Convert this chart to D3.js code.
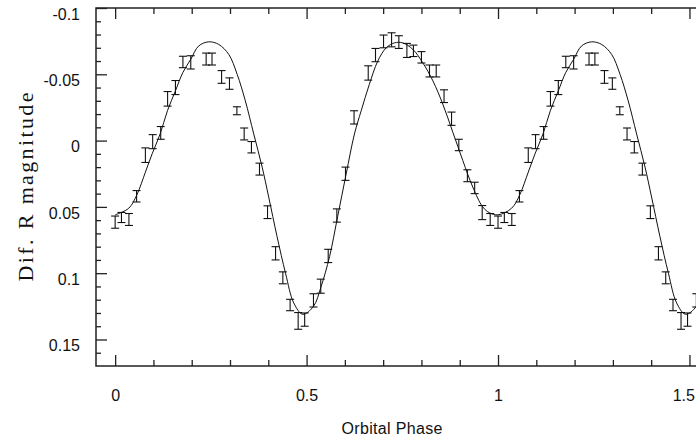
<!DOCTYPE html>
<html>
<head>
<meta charset="utf-8">
<script src="https://cdn.jsdelivr.net/npm/d3@7"></script>
<style>
  body { margin: 0; background: #fff; }
  svg { display: block; }
</style>
</head>
<body>
<div id="chart"></div>
<script>
// observed points (one cycle, phase 0..1) - folded again at phase + 1
const phase = [0.0, 0.0165, 0.036, 0.056, 0.079, 0.098, 0.119, 0.137, 0.1575, 0.177,
  0.1975, 0.2377, 0.253, 0.278, 0.2986, 0.318, 0.337, 0.356, 0.377, 0.398,
  0.419, 0.438, 0.457, 0.478, 0.495, 0.518, 0.537, 0.5565, 0.579, 0.6016,
  0.624, 0.661, 0.680, 0.701, 0.722, 0.741, 0.762, 0.779, 0.80, 0.821,
  0.8386, 0.859, 0.8786, 0.8976, 0.920, 0.939, 0.9587, 0.9796];
const mag = [0.0615, 0.058, 0.0595, 0.042, 0.011, 0.0008, -0.0058, -0.0315, -0.040, -0.0593,
  -0.059, -0.0615, -0.0615, -0.048, -0.043, -0.0225, -0.005, 0.005, 0.0215, 0.054,
  0.085, 0.1035, 0.124, 0.136, 0.135, 0.1205, 0.1098, 0.087, 0.0565, 0.025,
  -0.0175, -0.051, -0.0645, -0.0748, -0.076, -0.0743, -0.068, -0.0677, -0.0628, -0.0525,
  -0.0525, -0.0335, -0.0165, 0.0033, 0.0265, 0.0357, 0.0543, 0.0595];
const err = [0.0046, 0.0038, 0.0045, 0.0043, 0.0055, 0.0053, 0.0048, 0.0055, 0.0053, 0.0043,
  0.005, 0.0045, 0.0045, 0.0048, 0.0043, 0.003, 0.0045, 0.0043, 0.0045, 0.0048,
  0.005, 0.0045, 0.0043, 0.0063, 0.005, 0.005, 0.0053, 0.005, 0.005, 0.005,
  0.005, 0.0054, 0.005, 0.0048, 0.0053, 0.0048, 0.0053, 0.0043, 0.0043, 0.0045,
  0.0045, 0.0048, 0.005, 0.0043, 0.0045, 0.0043, 0.0053, 0.0045];

// model light curve
const modelPhase = [0.0, 0.0356, 0.0566, 0.079, 0.0966, 0.1175, 0.1366, 0.1575, 0.1766, 0.1975,
  0.218, 0.2445, 0.2707, 0.2968, 0.3187, 0.340, 0.362, 0.384, 0.401, 0.423,
  0.445, 0.4666, 0.490, 0.518, 0.538, 0.56, 0.581, 0.6035, 0.625, 0.6426,
  0.664, 0.686, 0.708, 0.7296, 0.751, 0.7775, 0.8035, 0.83, 0.8558, 0.882,
  0.908, 0.934, 0.960, 0.978, 1.0];
const modelMag = [0.056, 0.051, 0.041, 0.0238, 0.010, -0.005, -0.0225, -0.0375, -0.0512, -0.0613,
  -0.0713, -0.0745, -0.0725, -0.065, -0.050, -0.030, -0.005, 0.020, 0.0425, 0.0725,
  0.100, 0.1225, 0.131, 0.125, 0.110, 0.0875, 0.0575, 0.025, -0.005, -0.0225,
  -0.0425, -0.060, -0.070, -0.0737, -0.0737, -0.0688, -0.0587, -0.045, -0.0275, -0.0063,
  0.015, 0.035, 0.050, 0.0545, 0.056];

// tick values / labels
const xMajor = [0, 0.5, 1, 1.5];
const xMajorLabels = ['0', '0.5', '1', '1.5'];
const xMinor = [0.1, 0.2, 0.3, 0.4, 0.6, 0.7, 0.8, 0.9, 1.1, 1.2, 1.3, 1.4];
const yMajor = [-0.1, -0.05, 0, 0.05, 0.1, 0.15];
const yMajorLabels = ['-0.1', '-0.05', '0', '0.05', '0.1', '0.15'];
const yMinor = d3.range(-9, 17).map(d => d / 100).filter(d => Math.round(d * 100) % 5 !== 0);

const W = 696, H = 438;
const margin = { top: 8, left: 96 };
const plotW = 612.6, plotH = 358;

const x = d3.scaleLinear().domain([-0.05, 1.55]).range([margin.left, margin.left + plotW]);
const y = d3.scaleLinear().domain([-0.1, 0.17]).range([margin.top, margin.top + plotH]);

// fold the cycle once more so the plot runs to phase 1.5+
const points = phase.map((p, i) => ({ p, m: mag[i], e: err[i] }));
const allPoints = points.concat(points.filter(d => d.p + 1 <= 1.56).map(d => ({ p: d.p + 1, m: d.m, e: d.e })));

const model = modelPhase.map((p, i) => ({ p, m: modelMag[i] }));
const allModel = model.concat(model.filter(d => d.p > 0 && d.p + 1 <= 1.6).map(d => ({ p: d.p + 1, m: d.m })));

const svg = d3.select('#chart').append('svg')
  .attr('width', W)
  .attr('height', H);

svg.append('defs').append('clipPath').attr('id', 'plot-clip')
  .append('rect')
  .attr('x', margin.left).attr('y', margin.top)
  .attr('width', plotW).attr('height', plotH);

const plot = svg.append('g').attr('clip-path', 'url(#plot-clip)');

// model curve
const line = d3.line()
  .x(d => x(d.p))
  .y(d => y(d.m))
  .curve(d3.curveCatmullRom.alpha(0.5));

plot.append('path')
  .datum(allModel)
  .attr('fill', 'none')
  .attr('stroke', '#111')
  .attr('stroke-width', 1)
  .attr('d', line);

// error bars
const cap = 4;
const bars = plot.selectAll('g.bar')
  .data(allPoints)
  .enter().append('g')
  .attr('class', 'bar')
  .attr('stroke', '#111')
  .attr('stroke-width', 1.1);

bars.append('line')
  .attr('x1', d => x(d.p)).attr('x2', d => x(d.p))
  .attr('y1', d => y(d.m - d.e)).attr('y2', d => y(d.m + d.e));
bars.append('line')
  .attr('x1', d => x(d.p) - cap).attr('x2', d => x(d.p) + cap)
  .attr('y1', d => y(d.m - d.e)).attr('y2', d => y(d.m - d.e));
bars.append('line')
  .attr('x1', d => x(d.p) - cap).attr('x2', d => x(d.p) + cap)
  .attr('y1', d => y(d.m + d.e)).attr('y2', d => y(d.m + d.e));

// axes - ticks point inward on all four sides
const bottom = margin.top + plotH;
const right = margin.left + plotW;

function styleAxis(g) {
  g.select('.domain').remove();
  g.selectAll('.tick line').attr('stroke', '#222').attr('stroke-width', 1.3);
  g.selectAll('text')
    .attr('fill', '#111')
    .style('font-family', '"Liberation Sans", Arial, sans-serif')
    .style('font-size', '16px');
}

svg.append('g')
  .attr('transform', `translate(0,${bottom})`)
  .call(d3.axisBottom(x).tickValues(xMajor).tickSize(-11).tickPadding(0)
    .tickFormat((d, i) => xMajorLabels[i]))
  .call(styleAxis)
  .call(g => g.selectAll('text').attr('y', 24))
  // last label sits at the window edge; keep it inside
  .call(g => g.selectAll('.tick').filter(d => d === 1.5).select('text')
    .attr('text-anchor', 'end').attr('x', 5));

svg.append('g')
  .attr('transform', `translate(0,${bottom})`)
  .call(d3.axisBottom(x).tickValues(xMinor).tickSize(-6).tickFormat(''))
  .call(styleAxis);

svg.append('g')
  .attr('transform', `translate(0,${margin.top})`)
  .call(d3.axisTop(x).tickValues(xMajor).tickSize(-11).tickFormat(''))
  .call(styleAxis);

svg.append('g')
  .attr('transform', `translate(0,${margin.top})`)
  .call(d3.axisTop(x).tickValues(xMinor).tickSize(-6).tickFormat(''))
  .call(styleAxis);

svg.append('g')
  .attr('transform', `translate(${margin.left},0)`)
  .call(d3.axisLeft(y).tickValues(yMajor).tickSize(-11).tickPadding(16)
    .tickFormat((d, i) => yMajorLabels[i]))
  .call(styleAxis)
  .call(g => g.selectAll('text').attr('y', 6));

svg.append('g')
  .attr('transform', `translate(${margin.left},0)`)
  .call(d3.axisLeft(y).tickValues(yMinor).tickSize(-5).tickFormat(''))
  .call(styleAxis);

svg.append('g')
  .attr('transform', `translate(${right},0)`)
  .call(d3.axisRight(y).tickValues(yMajor).tickSize(-11).tickFormat(''))
  .call(styleAxis);

// frame
svg.append('rect')
  .attr('x', margin.left).attr('y', margin.top)
  .attr('width', plotW).attr('height', plotH)
  .attr('fill', 'none')
  .attr('stroke', '#222')
  .attr('stroke-width', 1.5);

// axis titles
svg.append('text')
  .attr('x', 392).attr('y', 434)
  .attr('text-anchor', 'middle')
  .attr('textLength', 101)
  .attr('lengthAdjust', 'spacing')
  .style('font-family', '"Liberation Sans", Arial, sans-serif')
  .style('font-size', '16px')
  .attr('fill', '#111')
  .text('Orbital Phase');

svg.append('text')
  .attr('transform', 'translate(33,187) rotate(-90)')
  .attr('text-anchor', 'middle')
  .attr('textLength', 189)
  .attr('lengthAdjust', 'spacing')
  .style('font-family', '"Liberation Serif", "Times New Roman", serif')
  .style('font-size', '22px')
  .attr('fill', '#111')
  .text('Dif. R magnitude');
</script>
</body>
</html>
